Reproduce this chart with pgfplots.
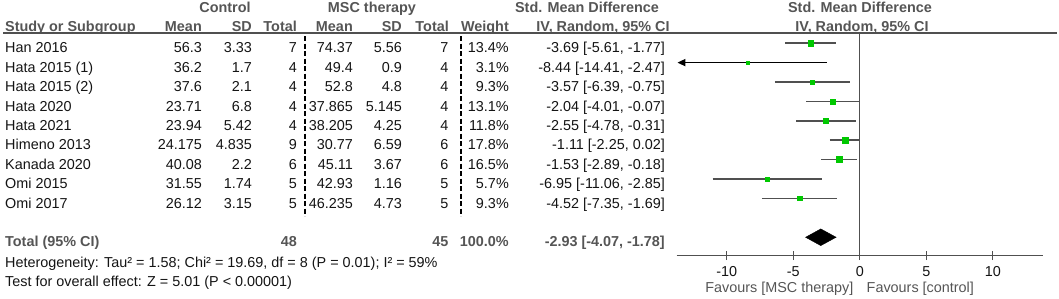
\documentclass[border=0pt]{standalone}
\usepackage{fontspec}
\setmainfont{Liberation Sans}
\usepackage{pgfplots}
\pgfplotsset{compat=1.18}
\usepackage{pgfplotstable}
\usetikzlibrary{arrows.meta}
\definecolor{hdr}{RGB}{85,85,85}
\definecolor{txt}{RGB}{20,20,20}
\definecolor{lin}{RGB}{80,80,80}
\definecolor{sq}{RGB}{0,200,0}

\pgfplotstableread{
r smd lo hi w
0 -3.69 -5.61 -1.77 13.4
1 -8.44 -14.41 -2.47 3.1
2 -3.57 -6.39 -0.75 9.3
3 -2.04 -4.01 -0.07 13.1
4 -2.55 -4.78 -0.31 11.8
5 -1.11 -2.25 0.02 17.8
6 -1.53 -2.89 -0.18 16.5
7 -6.95 -11.06 -2.85 5.7
8 -4.52 -7.35 -1.69 9.3
}\studies

\newcommand\fs{\fontsize{14.4}{17}\selectfont}
\newcommand\tR[3]{\node[anchor=base east, inner sep=0, text=txt] at (#1pt,-#2pt) {#3};}
\newcommand\tL[3]{\node[anchor=base west, inner sep=0, text=txt] at (#1pt,-#2pt) {#3};}
\newcommand\hR[3]{\node[anchor=base east, inner sep=0, text=hdr, font=\fs\bfseries] at (#1pt,-#2pt) {#3};}
\newcommand\hC[3]{\node[anchor=base, inner sep=0, text=hdr, font=\fs\bfseries] at (#1pt,-#2pt) {#3};}
\newcommand\trow[9]{%
  \tL{5}{#1}{#2}\tR{202}{#1}{#3}\tR{252}{#1}{#4}\tR{297}{#1}{#5}%
  \tR{353}{#1}{#6}\tR{402}{#1}{#7}\tR{448.5}{#1}{#8}\tR{509}{#1}{#9}}

\begin{document}
\begin{tikzpicture}[every node/.style={font=\fs}]
\path[use as bounding box] (0,0) rectangle (1059pt,-298pt);

% header
\hC{225}{12}{Control}
\hC{372}{12}{MSC therapy}
\hC{587}{12}{Std. Mean Difference}
\hC{860}{12}{Std. Mean Difference}
\node[anchor=base west, inner sep=0, text=hdr, font=\fs\bfseries] at (5pt,-31pt) {Study or Subgroup};
\hR{202}{31}{Mean}\hR{252}{31}{SD}\hR{297}{31}{Total}
\hR{353}{31}{Mean}\hR{402}{31}{SD}\hR{449}{31}{Total}
\hR{509}{31}{Weight}
\hC{603}{31}{IV, Random, 95\% CI}
\hC{862}{31}{IV, Random, 95\% CI}
\draw[lin, line width=1.5pt] (3pt,-32.8pt) -- (1057pt,-32.8pt);

% dashed separators
\draw[black, line width=1.8pt, dash pattern=on 5pt off 2.5pt] (305pt,-36pt) -- (305pt,-216pt);
\draw[black, line width=1.8pt, dash pattern=on 5pt off 2.5pt] (461pt,-36pt) -- (461pt,-216pt);

% study rows
\trow{52.9}{Han 2016}{56.3}{3.33}{7}{74.37}{5.56}{7}{13.4\%}
\trow{72.3}{Hata 2015 (1)}{36.2}{1.7}{4}{49.4}{0.9}{4}{3.1\%}
\trow{91.7}{Hata 2015 (2)}{37.6}{2.1}{4}{52.8}{4.8}{4}{9.3\%}
\trow{111.1}{Hata 2020}{23.71}{6.8}{4}{37.865}{5.145}{4}{13.1\%}
\trow{130.5}{Hata 2021}{23.94}{5.42}{4}{38.205}{4.25}{4}{11.8\%}
\trow{149.9}{Himeno 2013}{24.175}{4.835}{9}{30.77}{6.59}{6}{17.8\%}
\trow{169.3}{Kanada 2020}{40.08}{2.2}{6}{45.11}{3.67}{6}{16.5\%}
\trow{188.7}{Omi 2015}{31.55}{1.74}{5}{42.93}{1.16}{5}{5.7\%}
\trow{208.1}{Omi 2017}{26.12}{3.15}{5}{46.235}{4.73}{5}{9.3\%}
\tR{665}{52.9}{-3.69 [-5.61, -1.77]}
\tR{665}{72.3}{-8.44 [-14.41, -2.47]}
\tR{665}{91.7}{-3.57 [-6.39, -0.75]}
\tR{665}{111.1}{-2.04 [-4.01, -0.07]}
\tR{665}{130.5}{-2.55 [-4.78, -0.31]}
\tR{665}{149.9}{-1.11 [-2.25, 0.02]}
\tR{665}{169.3}{-1.53 [-2.89, -0.18]}
\tR{665}{188.7}{-6.95 [-11.06, -2.85]}
\tR{665}{208.1}{-4.52 [-7.35, -1.69]}

% total
\node[anchor=base west, inner sep=0, text=hdr, font=\fs\bfseries] at (5pt,-246.9pt) {Total (95\% CI)};
\hR{297}{246.9}{48}\hR{448.5}{246.9}{45}\hR{509}{246.9}{100.0\%}
\hR{665}{246.9}{-2.93 [-4.07, -1.78]}
\tL{5}{267}{Heterogeneity: Tau² = 1.58; Chi² = 19.69, df = 8 (P = 0.01); I² = 59\%}
\tL{5}{286}{Test for overall effect: Z = 5.01 (P < 0.00001)}

% favours
\node[anchor=base east, inner sep=0, text=hdr] at (853.5pt,-292.5pt) {Favours [MSC therapy]};
\node[anchor=base west, inner sep=0, text=hdr] at (866.5pt,-292.5pt) {Favours [control]};

\begin{axis}[
  at={(676.7pt,-255.5pt)}, anchor=south west,
  scale only axis, width=366.1pt, height=222.5pt,
  xmin=-13.76, xmax=13.76, ymin=-10.94, ymax=0.526,
  axis x line=bottom, axis y line=none,
  axis line style={-, lin, line width=1.4pt},
  xtick={-10,-5,0,5,10}, xticklabels={-10,-5,0,5,10},
  tick align=center, major tick length=9pt,
  tick style={lin, line width=1.4pt},
  xticklabel style={font=\fs, text=txt, anchor=base, yshift=-16pt},
  ytick=\empty,
  ci/.style={lin, line width=1.6pt, mark=none},
]
\addplot[lin, line width=1.4pt] coordinates {(0,-10.94) (0,0.526)};
\addplot[ci] coordinates {(-5.61,0) (-1.77,0)};
\addplot[ci] coordinates {(-6.39,-2) (-0.75,-2)};
\addplot[ci] coordinates {(-4.01,-3) (-0.07,-3)};
\addplot[ci] coordinates {(-4.78,-4) (-0.31,-4)};
\addplot[ci] coordinates {(-2.25,-5) (0.02,-5)};
\addplot[ci] coordinates {(-2.89,-6) (-0.18,-6)};
\addplot[ci] coordinates {(-11.06,-7) (-2.85,-7)};
\addplot[ci] coordinates {(-7.35,-8) (-1.69,-8)};
\addplot[black, line width=1.6pt, mark=none, -{Triangle[length=8pt,width=7pt]}]
  coordinates {(-2.47,-1) (-13.71,-1)};
\addplot[scatter, only marks, mark=square*,
  scatter/use mapped color={draw=sq, fill=sq},
  visualization depends on={0.725*sqrt(\thisrow{w}) \as \ms},
  scatter/@pre marker code/.append style={/tikz/mark size=\ms, /tikz/line width=0pt}]
  table[x=smd, y expr=-\thisrow{r}] {\studies};
\addplot[fill=black, draw=black, mark=none] coordinates
  {(-4.07,-10) (-2.93,-9.57) (-1.78,-10) (-2.93,-10.43)} -- cycle;
\end{axis}
\end{tikzpicture}
\end{document}
